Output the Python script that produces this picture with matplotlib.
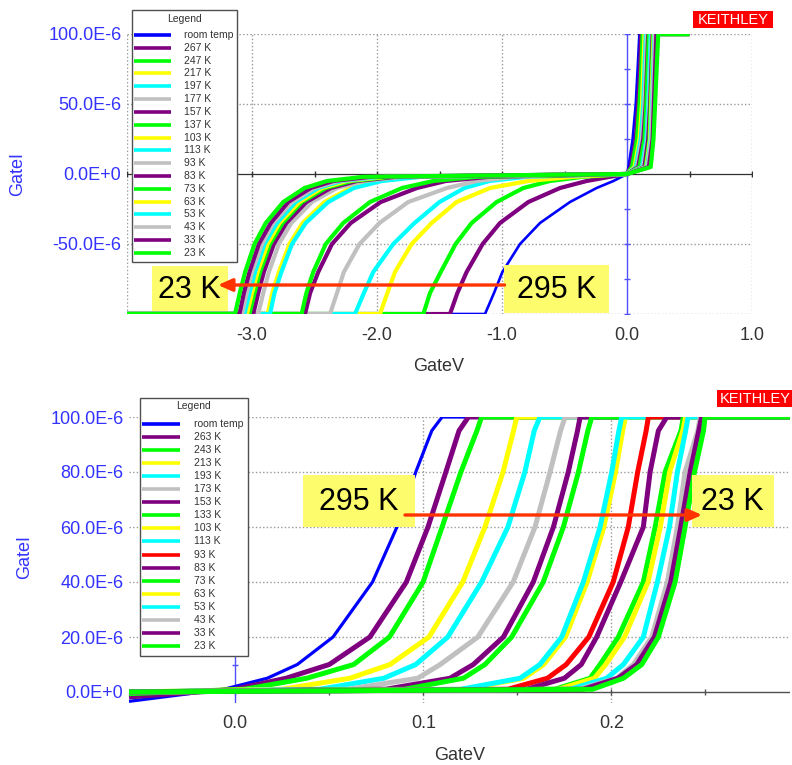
import matplotlib
matplotlib.use("Agg")
import matplotlib.pyplot as plt
from matplotlib.patches import Rectangle
import numpy as np

plt.rcParams['font.family'] = ['Liberation Sans', 'DejaVu Sans']

BLUE, PURPLE, GREEN, YELLOW, CYAN, GRAY, RED = ('#0000ff', '#7f007f', '#00ff00', '#ffff00',
                                                '#00ffff', '#c0c0c0', '#ff0000')

# ---------------- data: top panel (full sweep) ----------------
top_labels = ["room temp", "267 K", "247 K", "217 K", "197 K", "177 K", "157 K", "137 K",
              "103 K", "113 K", "93 K", "83 K", "73 K", "63 K", "53 K", "43 K", "33 K", "23 K"]
top_colors = [BLUE, PURPLE, GREEN, YELLOW, CYAN, GRAY, PURPLE, GREEN, YELLOW, CYAN,
              GRAY, PURPLE, GREEN, YELLOW, CYAN, GRAY, PURPLE, GREEN]
top_v_start = -4.0          # sweep start (V)
top_v_end = 0.5             # sweep end (V)
top_neg_levels = [-100, -85, -70, -50, -35, -20, -10, -5, -2, 0]     # uA
top_neg_v = [
    [-1.136, -1.064, -0.997, -0.856, -0.696, -0.456, -0.243, -0.109, -0.043, 0.0],
    [-1.416, -1.357, -1.283, -1.155, -1.016, -0.789, -0.536, -0.323, -0.136, 0.0],
    [-1.629, -1.576, -1.490, -1.371, -1.243, -1.043, -0.829, -0.616, -0.349, 0.0],
    [-1.976, -1.917, -1.856, -1.723, -1.563, -1.363, -1.096, -0.789, -0.429, 0.0],
    [-2.176, -2.105, -2.030, -1.870, -1.700, -1.500, -1.300, -1.100, -0.800, 0.0],
    [-2.376, -2.320, -2.265, -2.140, -1.980, -1.750, -1.440, -1.200, -0.900, 0.0],
    [-2.576, -2.535, -2.470, -2.360, -2.210, -1.970, -1.680, -1.450, -1.100, 0.0],
    [-2.603, -2.565, -2.510, -2.410, -2.270, -2.056, -1.800, -1.550, -1.200, 0.0],
    [-2.875, -2.838, -2.785, -2.700, -2.595, -2.420, -2.215, -1.990, -1.680, 0.0],
    [-2.856, -2.820, -2.765, -2.680, -2.570, -2.390, -2.185, -1.960, -1.650, 0.0],
    [-2.950, -2.910, -2.865, -2.785, -2.685, -2.520, -2.320, -2.100, -1.790, 0.0],
    [-2.990, -2.950, -2.905, -2.825, -2.725, -2.565, -2.370, -2.160, -1.850, 0.0],
    [-3.020, -2.980, -2.935, -2.855, -2.755, -2.600, -2.410, -2.200, -1.890, 0.0],
    [-3.040, -3.000, -2.955, -2.875, -2.780, -2.620, -2.440, -2.240, -1.930, 0.0],
    [-3.060, -3.020, -2.975, -2.900, -2.800, -2.650, -2.470, -2.280, -1.970, 0.0],
    [-3.080, -3.043, -3.000, -2.920, -2.830, -2.680, -2.500, -2.310, -2.010, 0.0],
    [-3.100, -3.065, -3.020, -2.945, -2.850, -2.710, -2.530, -2.350, -2.050, 0.0],
    [-3.136, -3.098, -3.055, -2.980, -2.890, -2.750, -2.580, -2.400, -2.110, 0.0],
]
top_pos_levels = [0, 5, 25, 50, 75, 100]                               # uA
top_pos_v = [
    [0, 0.012, 0.045, 0.070, 0.085, 0.099],
    [0, 0.030, 0.070, 0.090, 0.105, 0.115],
    [0, 0.040, 0.080, 0.100, 0.115, 0.125],
    [0, 0.060, 0.100, 0.120, 0.130, 0.140],
    [0, 0.070, 0.110, 0.130, 0.140, 0.150],
    [0, 0.080, 0.120, 0.140, 0.150, 0.160],
    [0, 0.090, 0.130, 0.150, 0.160, 0.170],
    [0, 0.100, 0.140, 0.155, 0.165, 0.175],
    [0, 0.122, 0.158, 0.172, 0.182, 0.192],
    [0, 0.120, 0.155, 0.170, 0.180, 0.190],
    [0, 0.130, 0.165, 0.180, 0.190, 0.200],
    [0, 0.140, 0.170, 0.185, 0.195, 0.205],
    [0, 0.150, 0.180, 0.190, 0.200, 0.210],
    [0, 0.155, 0.185, 0.195, 0.205, 0.215],
    [0, 0.160, 0.190, 0.200, 0.210, 0.220],
    [0, 0.165, 0.195, 0.205, 0.215, 0.225],
    [0, 0.175, 0.205, 0.215, 0.225, 0.235],
    [0, 0.190, 0.212, 0.225, 0.237, 0.250],
]

# ---------------- data: bottom panel (zoom on forward region) ----------------
bot_labels = ["room temp", "263 K", "243 K", "213 K", "193 K", "173 K", "153 K", "133 K",
              "103 K", "113 K", "93 K", "83 K", "73 K", "63 K", "53 K", "43 K", "33 K", "23 K"]
bot_colors = [BLUE, PURPLE, GREEN, YELLOW, CYAN, GRAY, PURPLE, GREEN, YELLOW, CYAN,
              RED, PURPLE, GREEN, YELLOW, CYAN, GRAY, PURPLE, GREEN]
bot_v_start = -0.0565
bot_v_end = 0.295
bot_left_i = [-3.4, -1.8, -0.6, 0.0, 0.0, 0.0, 0.0, 0.0, 0.0,
              0.0, 0.0, 0.0, 0.0, 0.0, 0.0, 0.0, 0.0, 0.0]          # uA at sweep start
bot_levels = [1, 5, 10, 20, 40, 60, 80, 95, 100]                     # uA
bot_v = [
    [-0.006, 0.017, 0.033, 0.052, 0.073, 0.086, 0.096, 0.1045, 0.110],
    [0.000, 0.027, 0.050, 0.0716, 0.091, 0.1025, 0.112, 0.119, 0.124],
    [0.005, 0.038, 0.063, 0.082, 0.0999, 0.110, 0.120, 0.1285, 0.131],
    [0.025, 0.061, 0.0823, 0.103, 0.121, 0.1328, 0.1424, 0.148, 0.1497],
    [0.045, 0.079, 0.096, 0.113, 0.131, 0.145, 0.154, 0.159, 0.162],
    [0.060, 0.097, 0.109, 0.129, 0.1478, 0.1594, 0.1674, 0.173, 0.1754],
    [0.080, 0.1142, 0.1266, 0.1426, 0.1585, 0.1692, 0.1771, 0.182, 0.1834],
    [0.090, 0.1213, 0.1328, 0.147, 0.1638, 0.1745, 0.1825, 0.1875, 0.1896],
    [0.122, 0.1534, 0.164, 0.1756, 0.1871, 0.196, 0.2022, 0.206, 0.2075],
    [0.120, 0.1514, 0.162, 0.1736, 0.1851, 0.194, 0.2002, 0.204, 0.2055],
    [0.145, 0.166, 0.176, 0.188, 0.201, 0.209, 0.214, 0.2185, 0.2197],
    [0.155, 0.175, 0.184, 0.1922, 0.205, 0.217, 0.2206, 0.225, 0.2295],
    [0.170, 0.1887, 0.194, 0.2037, 0.217, 0.2233, 0.2286, 0.237, 0.2383],
    [0.172, 0.191, 0.197, 0.207, 0.2195, 0.226, 0.231, 0.238, 0.2395],
    [0.178, 0.1975, 0.2064, 0.217, 0.2245, 0.2309, 0.2351, 0.2395, 0.2408],
    [0.183, 0.2029, 0.2117, 0.2215, 0.2298, 0.2351, 0.2392, 0.246, 0.2472],
    [0.185, 0.2035, 0.2135, 0.2229, 0.2316, 0.2369, 0.2419, 0.2465, 0.248],
    [0.190, 0.2064, 0.2162, 0.225, 0.2339, 0.2392, 0.2442, 0.249, 0.2498],
]

top_xticks = [-4.0, -3.0, -2.0, -1.0, 0.0, 1.0]
top_xticklabels = ["", "-3.0", "-2.0", "-1.0", "0.0", "1.0"]
top_yticks = [100e-6, 50e-6, 0.0, -50e-6]
top_yticklabels = ["100.0E-6", "50.0E-6", "0.0E+0", "-50.0E-6"]
bot_xticks = [0.0, 0.1, 0.2]
bot_xticklabels = ["0.0", "0.1", "0.2"]
bot_yticks = [100e-6, 80e-6, 60e-6, 40e-6, 20e-6, 0.0]
bot_yticklabels = ["100.0E-6", "80.0E-6", "60.0E-6", "40.0E-6", "20.0E-6", "0.0E+0"]

# ---------------- figure ----------------
W, H = 792, 765
fig = plt.figure(figsize=(W / 100, H / 100), dpi=100)


def rect(l, t, r, b):
    return [l / W, 1 - b / H, (r - l) / W, (b - t) / H]


ax1 = fig.add_axes(rect(127, 34, 752, 314))
ax2 = fig.add_axes(rect(129, 417, 790, 703))

TICKBLUE = '#3333ff'
DARK = '#333333'
GRID = dict(color='#9a9a9a', lw=1.0, ls=(0, (1, 1.6)), zorder=1)


def style(ax, xt, xtl, yt, ytl):
    for s in ax.spines.values():
        s.set_visible(False)
    ax.set_xticks(xt)
    ax.set_xticklabels(xtl)
    ax.set_yticks(yt)
    ax.set_yticklabels(ytl)
    ax.tick_params(axis='x', length=0, pad=9, labelsize=13, labelcolor=DARK)
    ax.tick_params(axis='y', length=0, pad=4, labelsize=13, labelcolor=TICKBLUE)


# top panel
ax1.set_xlim(top_v_start, 1.0)
ax1.set_ylim(-100e-6, 100e-6)
for xv in [-4.0, -3.0, -2.0, -1.0, 1.0]:
    ax1.axvline(xv, **GRID)
for yv in [100e-6, 50e-6, -50e-6, -100e-6]:
    ax1.axhline(yv, **GRID)
ax1.axhline(0, color='#303030', lw=0.9, zorder=1.5)
tx = np.arange(-4.0, 1.01, 0.5)
ax1.plot(tx, np.zeros_like(tx), ls='none', marker='|', ms=4, mew=1, color='#303030', zorder=1.5)
ax1.axvline(0, color='#5050ff', lw=1.0, zorder=1.5)
ty = np.arange(-100, 101, 25) * 1e-6
ax1.plot(np.zeros_like(ty), ty, ls='none', marker='_', ms=5, mew=1, color='#5050ff', zorder=1.5)

for i in range(len(top_labels)):
    xs = [top_v_start] + top_neg_v[i] + top_pos_v[i][1:] + [top_v_end]
    ys = [top_neg_levels[0]] + top_neg_levels + top_pos_levels[1:] + [top_pos_levels[-1]]
    ax1.plot(xs, np.array(ys) * 1e-6, color=top_colors[i], lw=1.9 if i == 0 else 3.0,
             solid_joinstyle='round', solid_capstyle='butt', zorder=3 + i * 0.01)
style(ax1, top_xticks, top_xticklabels, top_yticks, top_yticklabels)

# bottom panel
ax2.set_xlim(bot_v_start, bot_v_end)
ax2.set_ylim(-4e-6, 100e-6)
for xv in [0.1, 0.2]:
    ax2.axvline(xv, **GRID)
for yv in [100e-6, 80e-6, 60e-6, 40e-6, 20e-6]:
    ax2.axhline(yv, **GRID)
ax2.axhline(0, color='#505050', lw=1.0, zorder=1.5)
tx2 = np.arange(0.0, 0.30, 0.05)
ax2.plot(tx2, np.zeros_like(tx2), ls='none', marker='|', ms=4, mew=1, color='#505050', zorder=1.5)
ax2.axvline(0, color='#5050ff', lw=1.0, zorder=1.5)
ty2 = np.arange(0, 101, 10) * 1e-6
ax2.plot(np.zeros_like(ty2), ty2, ls='none', marker='_', ms=5, mew=1, color='#5050ff', zorder=1.5)

for i in range(len(bot_labels)):
    xs = [bot_v_start] + bot_v[i] + [bot_v_end]
    ys = [bot_left_i[i]] + bot_levels + [bot_levels[-1]]
    ax2.plot(xs, np.array(ys) * 1e-6, color=bot_colors[i], lw=2.3 if i == 0 else 3.6,
             solid_joinstyle='round', solid_capstyle='butt', zorder=3 + i * 0.01)
style(ax2, bot_xticks, bot_xticklabels, bot_yticks, bot_yticklabels)

# axis titles
fig.text(18 / W, 1 - 174 / H, "GateI", rotation=90, ha='center', va='center', fontsize=13, color=TICKBLUE)
fig.text(439 / W, 1 - 366 / H, "GateV", ha='center', va='center', fontsize=13, color=DARK)
fig.text(25 / W, 1 - 557 / H, "GateI", rotation=90, ha='center', va='center', fontsize=13, color=TICKBLUE)
fig.text(460 / W, 1 - 755 / H, "GateV", ha='center', va='center', fontsize=13, color=DARK)

# ---------------- overlay (legends, labels, annotations) in pixel coords ----------------
ov = fig.add_axes([0, 0, 1, 1], zorder=10)
ov.set_xlim(0, W)
ov.set_ylim(H, 0)
ov.axis('off')
ov.patch.set_alpha(0)


def legend_box(l, t, r, b, title_y, first_y, step, x0, x1, xt, labels, colors):
    ov.add_patch(Rectangle((l, t), r - l, b - t, fc='white', ec='#505050', lw=1.0, zorder=1))
    ov.text((l + r) / 2, title_y, "Legend", ha='center', va='center', fontsize=7.5, color=DARK, zorder=2)
    for k, (lab, col) in enumerate(zip(labels, colors)):
        yy = first_y + k * step
        ov.plot([x0, x1], [yy, yy], color=col, lw=2.6, solid_capstyle='butt', zorder=2)
        ov.text(xt, yy, lab, ha='left', va='center', fontsize=7.5, color=DARK, zorder=2)


legend_box(131.5, 10, 236.5, 262, 18.5, 35, 12.82, 133.5, 171, 184, top_labels, top_colors)
legend_box(139.5, 398, 247.5, 656, 406, 423.5, 13.1, 141.5, 180, 194, bot_labels, bot_colors)

# KEITHLEY tags
ov.add_patch(Rectangle((693, 11), 80, 17, fc='#ff0000', ec='none', zorder=1))
ov.text(733, 19.8, "KEITHLEY", ha='center', va='center', fontsize=10.5, color='white', zorder=2)
ov.add_patch(Rectangle((717, 390), 80, 17, fc='#ff0000', ec='none', zorder=1))
ov.text(719.5, 398.8, "KEITHLEY", ha='left', va='center', fontsize=10.5, color='white', zorder=2)

# annotations
YEL = '#fcfc6c'
ARROW = '#ff3300'
ov.add_patch(Rectangle((151.7, 265.7), 76, 45.5, fc=YEL, ec='none', zorder=3))
ov.text(189.5, 290, "23 K", ha='center', va='center', fontsize=22, color='black', zorder=4)
ov.add_patch(Rectangle((504.3, 265), 105, 48, fc=YEL, ec='none', zorder=3))
ov.text(556.5, 289.5, "295 K", ha='center', va='center', fontsize=22, color='black', zorder=4)
ov.annotate('', xy=(218, 285), xytext=(504.5, 285),
            arrowprops=dict(arrowstyle='-|>,head_length=0.85,head_width=0.38', color=ARROW,
                            lw=2.4, shrinkA=0, shrinkB=0), zorder=5)

ov.add_patch(Rectangle((302.7, 475), 112.3, 51.7, fc=YEL, ec='none', zorder=3))
ov.text(358.5, 501.5, "295 K", ha='center', va='center', fontsize=22, color='black', zorder=4)
ov.add_patch(Rectangle((691.7, 475), 82.3, 51.7, fc=YEL, ec='none', zorder=3))
ov.text(732.5, 501.5, "23 K", ha='center', va='center', fontsize=22, color='black', zorder=4)
ov.annotate('', xy=(702, 515), xytext=(405, 515),
            arrowprops=dict(arrowstyle='-|>,head_length=0.85,head_width=0.38', color=ARROW,
                            lw=2.4, shrinkA=0, shrinkB=0), zorder=5)

fig.savefig("out.png", dpi=100)
